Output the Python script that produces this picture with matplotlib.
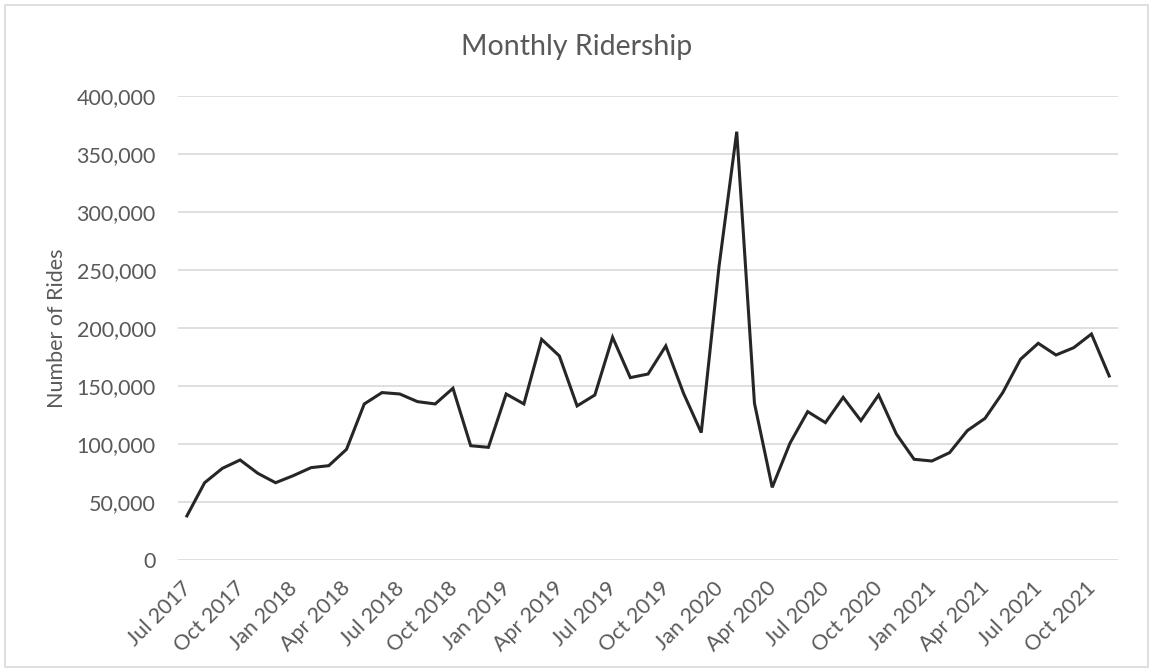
import matplotlib
matplotlib.use("Agg")
import matplotlib.pyplot as plt
import matplotlib.ticker as mticker
from matplotlib.patches import Rectangle
from matplotlib.transforms import ScaledTranslation

plt.rcParams['font.family'] = ['Lato', 'DejaVu Sans']

# месяцы с Jul 2017 по Nov 2021
month_names = ['Jan', 'Feb', 'Mar', 'Apr', 'May', 'Jun',
               'Jul', 'Aug', 'Sep', 'Oct', 'Nov', 'Dec']
months = []
for k in range(53):
    m = (6 + k) % 12
    y = 2017 + (6 + k) // 12
    months.append(f"{month_names[m]} {y}")

rides = [
    38000, 66600, 79000, 86200, 74700, 66600,          # 2017
    72700, 79600, 81300, 95400, 134500, 144300,        # 2018 H1
    143100, 136500, 134500, 148000, 98500, 97100,      # 2018 H2
    143100, 134500, 190200, 175900, 132800, 142200,    # 2019 H1
    192000, 157200, 160300, 184500, 143700, 109800,    # 2019 H2
    252800, 369200, 135100, 62600, 100600, 127900,     # 2020 H1
    118400, 140200, 120100, 142200, 108600, 86800,     # 2020 H2
    85300, 92500, 111500, 122100, 144300, 173000,      # 2021 H1
    186800, 176700, 183000, 194800, 158600,            # 2021 H2
]

text_color = '#595959'
grid_color = '#d9d9d9'

fig = plt.figure(figsize=(11.53, 6.72), dpi=100)
ax = fig.add_axes([0.1544, 0.1667, 0.8153, 0.6905])

x = list(range(len(rides)))
ax.plot(x, rides, color='#262626', linewidth=2.2, solid_joinstyle='miter')

ax.set_xlim(-0.5, len(rides) - 0.5)
ax.set_ylim(0, 400000)
ax.yaxis.set_major_locator(mticker.MultipleLocator(50000))
ax.yaxis.set_major_formatter(mticker.FuncFormatter(lambda v, p: f"{int(v):,}"))
ax.grid(axis='y', color=grid_color, linewidth=1.2)
ax.set_axisbelow(True)

# подписи по оси X каждые 3 месяца, рисуем вручную со сдвигом
tick_pos = x[::3]
ax.set_xticks(tick_pos)
ax.set_xticklabels([])
shift = ScaledTranslation(-6 / 100, -18 / 100, fig.dpi_scale_trans)
for i in tick_pos:
    ax.text(i, 0, months[i], transform=ax.get_xaxis_transform() + shift,
            rotation=45, ha='right', va='top', rotation_mode='anchor',
            color=text_color, fontsize=15.5)

for s in ax.spines.values():
    s.set_visible(False)
ax.tick_params(axis='both', length=0, colors=text_color, labelsize=15.5)
ax.tick_params(axis='y', pad=16)

ax.set_ylabel('Number of Rides', color=text_color, fontsize=15.5, labelpad=7)
fig.text(0.5, 1 - 47 / 672, 'Monthly Ridership', color=text_color,
         fontsize=20.5, ha='center', va='center')

fig.patches.append(Rectangle((5 / 1153, 5 / 672), 1143 / 1153, 662 / 672,
                             transform=fig.transFigure, fill=False,
                             edgecolor=grid_color, linewidth=1.2))

fig.savefig('out.png', dpi=100)
